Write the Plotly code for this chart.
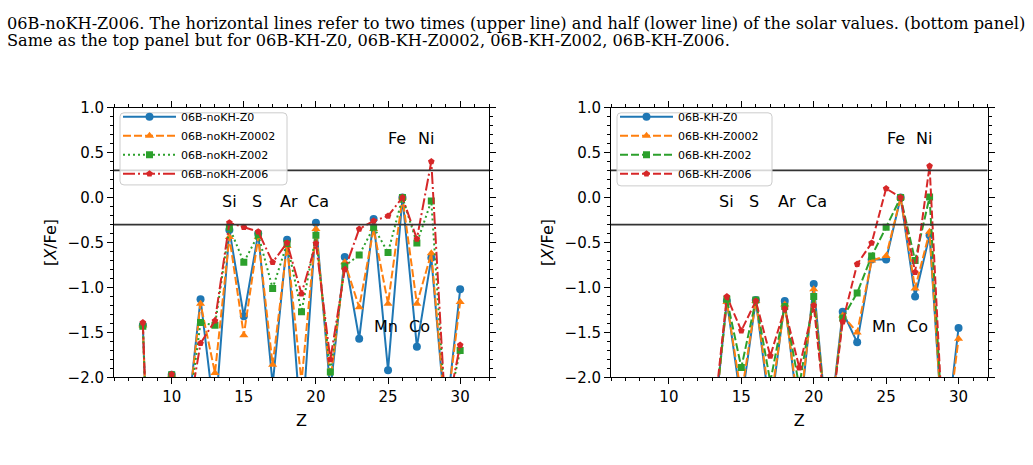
import plotly.graph_objects as go

# ---------------- data ----------------
Z_noKH = [8, 9, 10, 11, 12, 13, 14, 15, 16, 17, 18, 19, 20, 21, 22, 23, 24, 25, 26, 27, 28, 29, 30]
noKH_Z0 = [-1.42, -6.0, -1.97, -2.6, -1.13, -2.47, -0.36, -1.32, -0.40, -2.08, -0.47, -2.63, -0.28, -2.15,
           -0.66, -1.57, -0.24, -1.92, 0.0, -1.66, -0.67, -2.49, -1.02]
noKH_Z0002 = [-1.42, -6.0, -1.97, -2.6, -1.18, -1.95, -0.44, -1.53, -0.44, -1.86, -0.54, -2.05, -0.35, -2.05,
              -0.72, -1.22, -0.35, -1.18, 0.0, -1.18, -0.62, -2.45, -1.16]
noKH_Z002 = [-1.43, -6.0, -1.97, -2.6, -1.39, -1.42, -0.33, -0.72, -0.415, -1.01, -0.51, -1.27, -0.42, -1.94,
             -0.76, -0.64, -0.33, -0.61, 0.0, -0.505, -0.04, -2.45, -1.70]
noKH_Z006 = [-1.39, -6.0, -1.965, -2.57, -1.62, -1.37, -0.28, -0.33, -0.38, -0.72, -0.505, -1.07, -0.51, -1.80,
             -0.80, -0.35, -0.26, -0.205, 0.0, -0.46, 0.40, -2.45, -1.64]

Z_KH = [13, 14, 15, 16, 17, 18, 19, 20, 21, 22, 23, 24, 25, 26, 27, 28, 29, 30]
KH_Z0 = [-2.7, -1.15, -2.3, -1.14, -2.4, -1.15, -2.5, -0.96, -2.7, -1.27, -1.61, -0.69, -0.69, 0.0,
         -1.10, -0.42, -2.85, -1.45]
KH_Z0002 = [-2.7, -1.16, -2.2, -1.15, -2.3, -1.19, -2.4, -1.02, -2.7, -1.31, -1.50, -0.70, -0.65, 0.0,
            -1.01, -0.38, -2.85, -1.57]
KH_Z002 = [-2.7, -1.13, -1.89, -1.14, -2.05, -1.21, -2.1, -1.10, -2.7, -1.34, -1.06, -0.65, -0.33, 0.0,
           -0.70, 0.005, -2.85, None]
KH_Z006 = [-2.6, -1.10, -1.48, -1.15, -1.76, -1.235, -1.89, -1.20, -2.7, -1.38, -0.74, -0.505, 0.10, 0.0,
           -0.83, 0.35, -2.85, None]

names_noKH = ["06B-noKH-Z0", "06B-noKH-Z0002", "06B-noKH-Z002", "06B-noKH-Z006"]
names_KH = ["06B-KH-Z0", "06B-KH-Z0002", "06B-KH-Z002", "06B-KH-Z006"]

solar_lines = [0.301, -0.301]  # two times and half of solar

elem_labels = ["Si", "S", "Ar", "Ca", "Fe", "Ni", "Mn", "Co"]
elem_x = [14.0, 15.9, 18.15, 20.2, 25.65, 27.6, 24.85, 27.2]
elem_y = [-0.04, -0.04, -0.04, -0.04, 0.66, 0.66, -1.43, -1.43]

caption = [
    "06B-noKH-Z006. The horizontal lines refer to two times (upper line) and half (lower line) of the solar values. (bottom panel)",
    "Same as the top panel but for 06B-KH-Z0, 06B-KH-Z0002, 06B-KH-Z002, 06B-KH-Z006.",
]

# ---------------- styles ----------------
colors = ["#1f77b4", "#ff7f0e", "#2ca02c", "#d62728"]
symbols = ["circle", "triangle-up", "square", "pentagon"]
msizes = [8, 8, 7, 7]
dash_noKH = ["solid", "8px,3px", "2px,3px", "12px,3px,2px,3px"]
dash_KH = ["solid", "8px,3px", "8px,3px", "8px,3px"]

W, H = 1033, 465
FONT = "DejaVu Sans"

fig = go.Figure()

for i, (ys, nm) in enumerate(zip([noKH_Z0, noKH_Z0002, noKH_Z002, noKH_Z006], names_noKH)):
    fig.add_trace(go.Scatter(
        x=Z_noKH, y=ys, name=nm, mode="lines+markers", xaxis="x", yaxis="y", legend="legend",
        line=dict(color=colors[i], width=2, dash=dash_noKH[i]),
        marker=dict(symbol=symbols[i], size=msizes[i], color=colors[i]),
        connectgaps=False, cliponaxis=True,
    ))

for i, (ys, nm) in enumerate(zip([KH_Z0, KH_Z0002, KH_Z002, KH_Z006], names_KH)):
    fig.add_trace(go.Scatter(
        x=Z_KH, y=ys, name=nm, mode="lines+markers", xaxis="x2", yaxis="y2", legend="legend2",
        line=dict(color=colors[i], width=2, dash=dash_KH[i]),
        marker=dict(symbol=symbols[i], size=msizes[i], color=colors[i]),
        connectgaps=False, cliponaxis=True,
    ))

shapes = []
for xr, yr in [("x", "y"), ("x2", "y2")]:
    for v in solar_lines:
        shapes.append(dict(type="line", xref=f"{xr} domain", yref=yr, x0=0, x1=1, y0=v, y1=v,
                           line=dict(color="#333333", width=1.6), layer="above"))


def rounded_box(px0, py0, px1, py1, r=4):
    x0, x1 = px0 / W, px1 / W
    y0, y1 = 1 - py1 / H, 1 - py0 / H
    rx, ry = r / W, r / H
    return (f"M {x0 + rx},{y0} L {x1 - rx},{y0} Q {x1},{y0} {x1},{y0 + ry} "
            f"L {x1},{y1 - ry} Q {x1},{y1} {x1 - rx},{y1} "
            f"L {x0 + rx},{y1} Q {x0},{y1} {x0},{y1 - ry} "
            f"L {x0},{y0 + ry} Q {x0},{y0} {x0 + rx},{y0} Z")


for box in [(120, 108, 287, 183), (617, 108, 772, 184)]:
    shapes.append(dict(type="path", xref="paper", yref="paper", path=rounded_box(*box),
                       fillcolor="rgba(255,255,255,0.8)", line=dict(color="#cccccc", width=1),
                       layer="above"))

annotations = []
for xr, yr in [("x", "y"), ("x2", "y2")]:
    for t, ex, ey in zip(elem_labels, elem_x, elem_y):
        annotations.append(dict(text=t, x=ex, y=ey, xref=xr, yref=yr, showarrow=False,
                                font=dict(family=FONT, size=16, color="black"),
                                xanchor="center", yanchor="middle"))

for k, line in enumerate(caption):
    annotations.append(dict(text=line, x=5 / W, y=1 - (15 + 18 * k) / H, xref="paper", yref="paper",
                            showarrow=False, xanchor="left", yanchor="middle",
                            font=dict(family="DejaVu Serif", size=16.2, color="black")))

xax = dict(range=[6, 32], tick0=0, dtick=5, ticks="outside", ticklen=6, tickwidth=1, tickcolor="black",
           minor=dict(dtick=1, ticks="outside", ticklen=3, tickcolor="black", showgrid=False),
           showline=True, linecolor="black", linewidth=1, mirror="ticks", showgrid=False, zeroline=False,
           tickfont=dict(family=FONT, size=15, color="black"),
           title=dict(text="Z", font=dict(family=FONT, size=16, color="black"), standoff=9))
yax = dict(range=[-2, 1], tick0=0, dtick=0.5, tickformat=".1f", ticks="outside", ticklen=6, tickwidth=1,
           tickcolor="black",
           minor=dict(dtick=0.1, ticks="outside", ticklen=3, tickcolor="black", showgrid=False),
           showline=True, linecolor="black", linewidth=1, mirror="ticks", showgrid=False, zeroline=False,
           tickfont=dict(family=FONT, size=15, color="black"),
           title=dict(text="[<i>X</i>/Fe]", font=dict(family=FONT, size=16, color="black"), standoff=6))

ytop = 1 - 102.5 / H
ybot = 1 - 383.3 / H

legend_common = dict(bgcolor="rgba(0,0,0,0)", borderwidth=0,
                     font=dict(family=FONT, size=11, color="black"), xanchor="left", yanchor="top",
                     itemwidth=53, tracegroupgap=0)

fig.update_layout(
    width=W, height=H, margin=dict(l=0, r=0, t=0, b=0),
    paper_bgcolor="white", plot_bgcolor="white",
    xaxis=dict(xax, domain=[114 / W, 489 / W], anchor="y"),
    yaxis=dict(yax, domain=[ybot, ytop], anchor="x"),
    xaxis2=dict(xax, domain=[611 / W, 987.5 / W], anchor="y2"),
    yaxis2=dict(yax, domain=[ybot, ytop], anchor="x2"),
    legend=dict(legend_common, x=118 / W, y=1 - 97 / H),
    legend2=dict(legend_common, x=615 / W, y=1 - 97 / H),
    shapes=shapes, annotations=annotations, showlegend=True,
)

fig.write_html("out.html")
